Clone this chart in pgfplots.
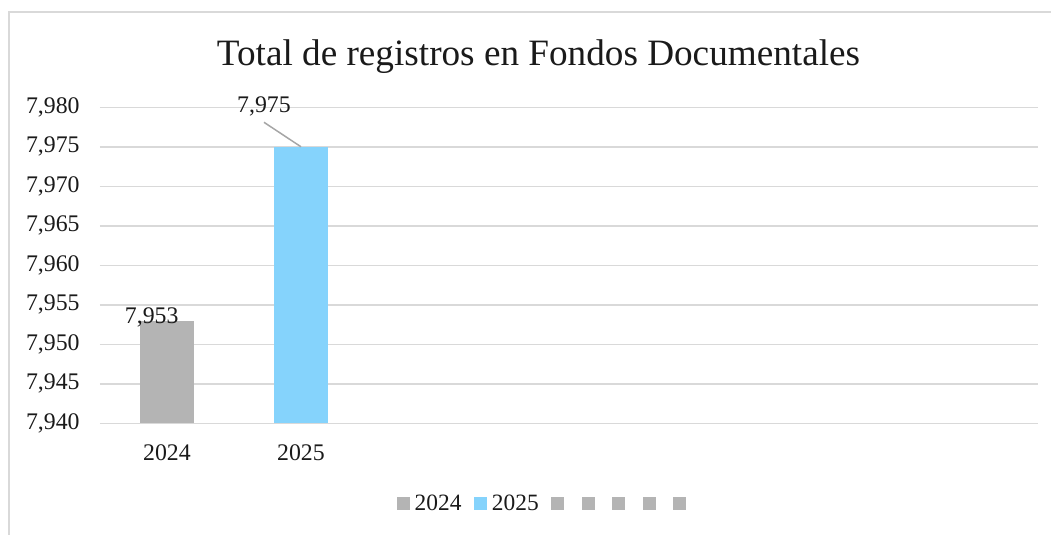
\documentclass[border=0pt]{standalone}
\usepackage{pgfplots}
\pgfplotsset{compat=1.18}
\usepackage{fontspec}
\setmainfont{Liberation Serif}
\definecolor{bargray}{HTML}{B4B4B4}
\definecolor{barblue}{HTML}{85D3FC}
\definecolor{gridgray}{HTML}{D9D9D9}
\definecolor{leadgray}{HTML}{A6A6A6}
\definecolor{txt}{HTML}{1A1A1A}
\begin{document}
\begin{tikzpicture}
\useasboundingbox (0,0) rectangle (525.5pt,267.5pt);
\draw[gridgray, line width=1pt] (4.5pt,0) -- (4.5pt,261.5pt) -- (525.5pt,261.5pt);
\node[anchor=base, font=\fontsize{18.6pt}{21pt}\selectfont, text=txt, inner sep=0pt] at (269.25pt,234.65pt) {Total de registros en Fondos Documentales};
\begin{axis}[
  at={(50pt,55.85pt)}, anchor=south west,
  scale only axis, width=469pt, height=158pt,
  clip mode=individual,
  xmin=-0.5, xmax=6.5, ymin=7940, ymax=7980,
  ytick={7940,7945,...,7980},
  xtick={0,1}, xticklabels={2024,2025},
  axis line style={draw=none}, tick style={draw=none},
  major tick length=0pt,
  ymajorgrids, grid style={gridgray, line width=0.75pt},
  font=\fontsize{11.9pt}{13.5pt}\selectfont,
  ticklabel style={text=txt},
  /pgf/number format/.cd, 1000 sep={,}, assume math mode=true,
  /pgfplots/.cd,
  yticklabel style={anchor=east, inner sep=0pt, xshift=-10pt},
  xticklabel style={anchor=north, inner sep=0pt, yshift=-10.5pt},
  legend columns=7,
  legend style={draw=none, fill=none, at={(0.476,-0.255)}, anchor=center,
    font=\fontsize{11.7pt}{13pt}\selectfont, text=txt,
    /tikz/every even column/.append style={column sep=3.75pt},
    nodes={inner sep=2.5pt}},
  legend image code/.code={\fill[#1] (0pt,-3.25pt) rectangle (6.5pt,3.25pt);},
]
\addplot[ybar, bar width=26.67pt, bar shift=0pt, fill=bargray, draw=none] coordinates {(0,7953)};
\addlegendentry{2024\hspace{0.6pt}}
\addplot[ybar, bar width=26.67pt, bar shift=0pt, fill=barblue, draw=none] coordinates {(1,7975)};
\addlegendentry{2025\hspace{0.2pt}}
\addlegendimage{fill=bargray, draw=none}\addlegendentry{\hbox{}}
\addlegendimage{fill=bargray, draw=none}\addlegendentry{\hbox{}}
\addlegendimage{fill=bargray, draw=none}\addlegendentry{\hbox{}}
\addlegendimage{fill=bargray, draw=none}\addlegendentry{\hbox{}}
\addlegendimage{fill=bargray, draw=none}\addlegendentry{\hbox{}}
\draw[leadgray, line width=0.75pt] (axis cs:0.724,7978.1) -- (axis cs:1,7975);
\node[anchor=base, inner sep=0pt, text=txt] at (axis cs:0.724,7979.28) {7,975};
\node[anchor=base, inner sep=0pt, text=txt] at (axis cs:-0.114,7952.66) {7,953};
\end{axis}
\end{tikzpicture}
\end{document}
